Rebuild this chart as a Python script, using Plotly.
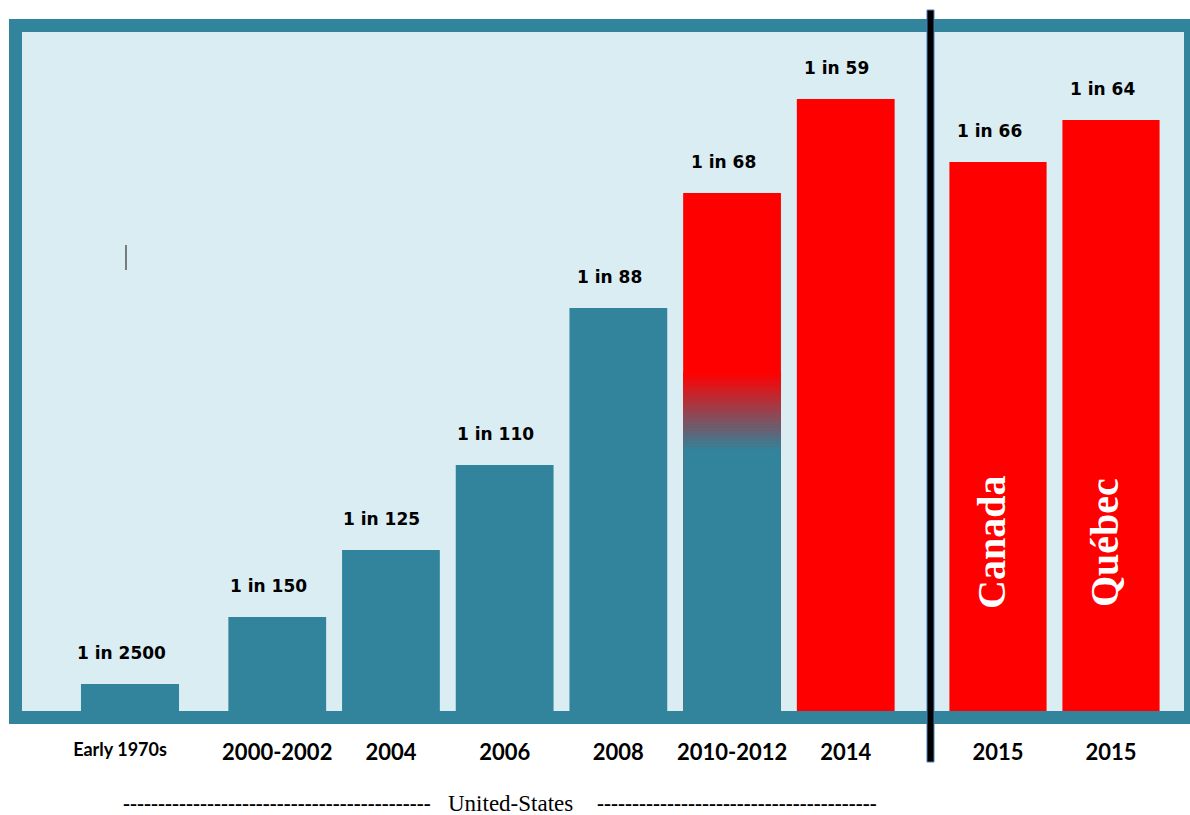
import plotly.graph_objects as go

# ---------------- data ----------------
early_cat = ["Early 1970s"]
early_val = [27]
early_lbl = ["1 in 2500"]

us_cats = ["2000-2002", "2004", "2006", "2008", "2010-2012", "2014"]
us_vals = [94, 161, 246, 403, 518, 612]
us_lbls = ["1 in 150", "1 in 125", "1 in 110", "1 in 88", "1 in 68", "1 in 59"]

ca_cats = ["Canada", "Québec"]
ca_ticks = ["2015", "2015"]
ca_vals = [549, 591]
ca_lbls = ["1 in 66", "1 in 64"]

# 2010-2012 bar: teal below, red above, with a blended band between
blend_from = 261
blend_to = 338

# ---------------- styles ----------------
TEAL = "#31849B"
LIGHT = "#DAEDF3"
RED = "#FF0000"
W, H = 1190, 815
BASE_PX = 711          # pixel row of the bars' baseline
Y_RANGE = [-(H - BASE_PX), BASE_PX]


def px_x(p):
    return p / W


def px_y(p):
    return BASE_PX - p


us_colors = [TEAL, TEAL, TEAL, TEAL, RED, RED]

fig = go.Figure()
BW = 0.86

fig.add_trace(go.Bar(x=early_cat, y=early_val, marker=dict(color=TEAL, line=dict(width=0)),
                     width=BW, xaxis="x", yaxis="y", hoverinfo="skip"))
fig.add_trace(go.Bar(x=us_cats, y=us_vals, marker=dict(color=us_colors, line=dict(width=0)),
                     width=BW, xaxis="x2", yaxis="y", hoverinfo="skip"))

# teal lower part of the 2010-2012 bar and colour blend
fig.add_trace(go.Bar(x=["2010-2012"], y=[blend_from], marker=dict(color=TEAL, line=dict(width=0)),
                     width=BW, xaxis="x2", yaxis="y", hoverinfo="skip"))
steps = 24
t_rgb = (0x31, 0x84, 0x9B)
r_rgb = (0xFF, 0x00, 0x00)
seg = (blend_to - blend_from) / steps
bases, hs, cols = [], [], []
for i in range(steps):
    f = (i + 0.5) / steps
    c = tuple(round(t_rgb[k] + (r_rgb[k] - t_rgb[k]) * f) for k in range(3))
    bases.append(blend_from + i * seg)
    hs.append(seg + 0.6)
    cols.append("rgb(%d,%d,%d)" % c)
fig.add_trace(go.Bar(x=["2010-2012"] * steps, y=hs, base=bases,
                     marker=dict(color=cols, line=dict(width=0)),
                     width=BW, xaxis="x2", yaxis="y", hoverinfo="skip"))

fig.add_trace(go.Bar(x=ca_cats, y=ca_vals, marker=dict(color=RED, line=dict(width=0)),
                     width=BW, xaxis="x3", yaxis="y", hoverinfo="skip"))

# value labels (category index used so numeric-looking names stay categories)
LBL_FONT = dict(family="DejaVu Sans", size=17, color="black")
for ax, cats, vals, lbls in [("x", early_cat, early_val, early_lbl),
                             ("x2", us_cats, us_vals, us_lbls),
                             ("x3", ca_cats, ca_vals, ca_lbls)]:
    for i, (v, t) in enumerate(zip(vals, lbls)):
        fig.add_annotation(x=i, y=v, xref=ax, yref="y", text="<b>%s</b>" % t,
                           showarrow=False, yshift=31, xshift=-9,
                           font=LBL_FONT, xanchor="center", yanchor="middle")

# country names inside the bars
for i, c in enumerate(ca_cats):
    fig.add_annotation(x=i, y=168, xref="x3", yref="y", text="<b>%s</b>" % c,
                       showarrow=False, textangle=-90, xshift=-7,
                       font=dict(family="Liberation Serif", size=40, color="white"))

# frame, divider, caret
shapes = [
    dict(type="rect", xref="paper", yref="y", layer="below",
         x0=px_x(15.5), x1=px_x(1190.5), y0=px_y(717.5), y1=px_y(25.5),
         line=dict(color=TEAL, width=13), fillcolor=LIGHT),
    dict(type="rect", xref="paper", yref="y", layer="above",
         x0=px_x(927), x1=px_x(934), y0=px_y(762), y1=px_y(10),
         line=dict(color="#4A7EBB", width=1), fillcolor="black"),
    dict(type="line", xref="paper", yref="y", layer="above",
         x0=px_x(126), x1=px_x(126), y0=px_y(245), y1=px_y(270),
         line=dict(color="#555555", width=1.5)),
]

# bottom caption
CAP_Y = (H - 803) / H
fig.add_annotation(xref="paper", yref="paper", x=px_x(511), y=CAP_Y,
                   text="United-States", showarrow=False, borderpad=0,
                   xanchor="center", yanchor="middle",
                   font=dict(family="Liberation Serif", size=23, color="black"))
fig.add_annotation(xref="paper", yref="paper", x=px_x(277), y=CAP_Y,
                   text="<b>" + "-" * 44 + "</b>", showarrow=False, borderpad=0,
                   xanchor="center", yanchor="middle",
                   font=dict(family="Liberation Serif", size=21, color="black"))
fig.add_annotation(xref="paper", yref="paper", x=px_x(737), y=CAP_Y,
                   text="<b>" + "-" * 40 + "</b>", showarrow=False, borderpad=0,
                   xanchor="center", yanchor="middle",
                   font=dict(family="Liberation Serif", size=21, color="black"))

AX_POS = (H - 737) / H
tick_font = dict(family="Lato", size=22, color="black")
common = dict(anchor="free", position=AX_POS, showgrid=False, zeroline=False,
              showline=False, ticks="", automargin=False, fixedrange=True,
              type="category")

fig.update_layout(
    width=W, height=H,
    margin=dict(l=0, r=0, t=0, b=0),
    paper_bgcolor="white", plot_bgcolor="rgba(0,0,0,0)",
    barmode="overlay", showlegend=False,
    shapes=shapes,
    xaxis=dict(domain=[px_x(73), px_x(187)], range=[-0.5, 0.5],
               tickvals=early_cat, ticktext=["<b>Early 1970s</b>"],
               ticklabelshift=-10,
               tickfont=dict(family="Lato", size=18, color="black"), **common),
    xaxis2=dict(domain=[px_x(220.4), px_x(902.6)], range=[-0.5, 5.5],
                tickvals=us_cats, ticktext=["<b>%s</b>" % c for c in us_cats],
                tickfont=tick_font, **common),
    xaxis3=dict(domain=[px_x(941.5), px_x(1167.5)], range=[-0.5, 1.5],
                tickvals=ca_cats, ticktext=["<b>%s</b>" % t for t in ca_ticks],
                tickfont=tick_font, **common),
    yaxis=dict(domain=[0, 1], range=Y_RANGE, visible=False, fixedrange=True,
               anchor="x"),
)

fig.write_html("out.html")
